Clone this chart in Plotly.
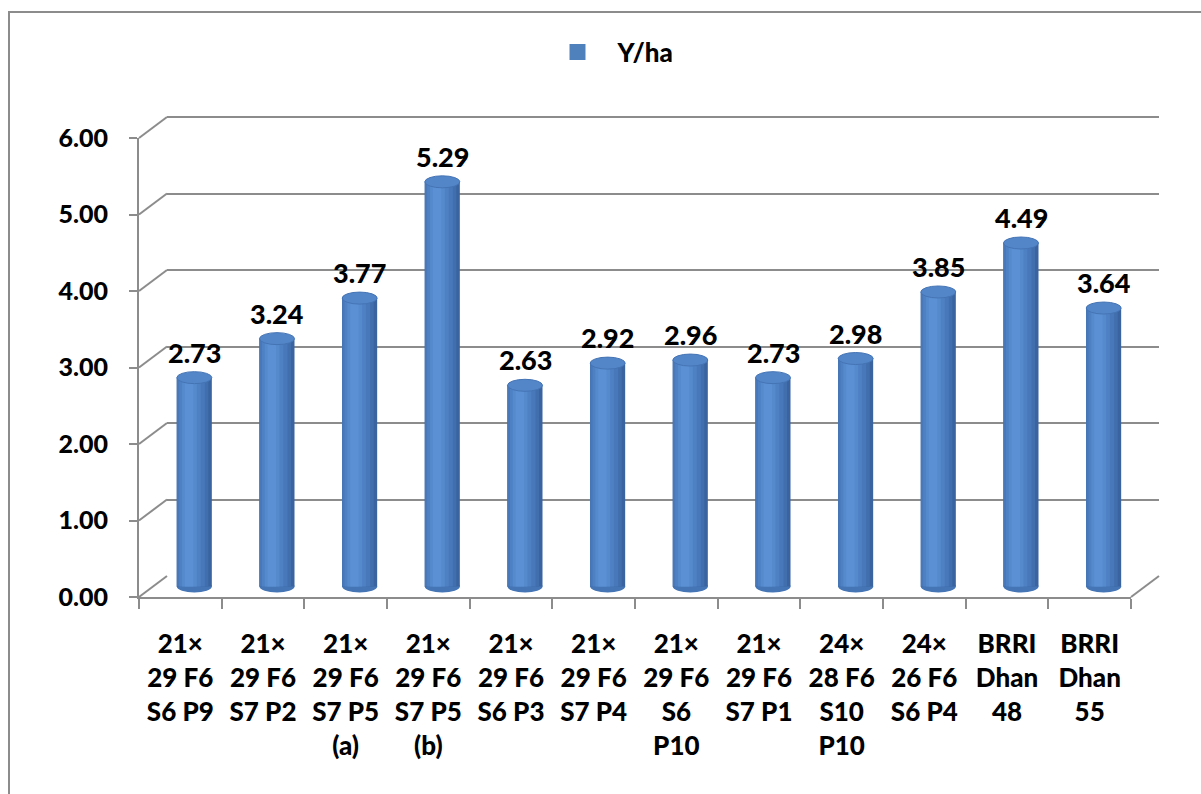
import plotly.graph_objects as go

# ---- data -------------------------------------------------------------
categories = [
    "21×<br>29 F6<br>S6 P9",
    "21×<br>29 F6<br>S7 P2",
    "21×<br>29 F6<br>S7 P5<br>(a)",
    "21×<br>29 F6<br>S7 P5<br>(b)",
    "21×<br>29 F6<br>S6 P3",
    "21×<br>29 F6<br>S7 P4",
    "21×<br>29 F6<br>S6<br>P10",
    "21×<br>29 F6<br>S7 P1",
    "24×<br>28 F6<br>S10<br>P10",
    "24×<br>26 F6<br>S6 P4",
    "BRRI<br>Dhan<br>48",
    "BRRI<br>Dhan<br>55",
]
yield_per_ha = [2.73, 3.24, 3.77, 5.29, 2.63, 2.92, 2.96, 2.73, 2.98, 3.85, 4.49, 3.64]
y_tick_values = [0, 1, 2, 3, 4, 5, 6]
series_name = "Y/ha"

# ---- geometry of the pseudo-3D frame (pixels) -------------------------
FIG_W, FIG_H = 1201, 794
LEFT, BOTTOM = 139, 197
FRONT_W, FRONT_H = 992, 459          # front plane of the plot box
DEPTH_X, DEPTH_Y = 28, 21            # perspective offset of the back wall
HEAD = 4                             # headroom so the top gridline is drawn
AREA_W = FRONT_W + DEPTH_X
AREA_H = FRONT_H + DEPTH_Y + HEAD
TOP = FIG_H - BOTTOM - AREA_H
RIGHT = FIG_W - LEFT - AREA_W

Y_MAX = y_tick_values[-1]
n = len(categories)
cat_px = FRONT_W / n
unit_px = FRONT_H / Y_MAX
bar_w = 35 / cat_px                   # cylinder width in category units
cap_h = 6 / unit_px                   # half height of the elliptical caps
floor_pad = (DEPTH_Y / 2) / unit_px   # room below zero for the bottom caps


def px(x):
    return x / AREA_W


def py(y):
    return y / AREA_H


GRID = "#8c8c8c"
FONT = "Lato"
WEIGHT = 900
BASE = "#4f81bd"

fig = go.Figure()

# back wall: carries the horizontal gridlines
fig.add_trace(go.Scatter(x=[0], y=[0], xaxis="x", yaxis="y", mode="markers",
                         marker=dict(opacity=0), hoverinfo="skip", showlegend=False))

# cylinders: overlaid bars of narrowing width give the rounded shading
shades = [
    (0.00, 1.00, "#3a64a0"),
    (0.00, 0.90, "#416fae"),
    (0.00, 0.80, "#4878b9"),
    (0.07, 0.68, "#4e81c4"),
    (0.15, 0.57, "#558acd"),
    (0.23, 0.47, "#5b91d4"),
]
for a, b, color in shades:
    fig.add_trace(go.Bar(
        x=categories, y=yield_per_ha, xaxis="x2", yaxis="y2",
        width=(b - a) * bar_w, offset=-bar_w / 2 + a * bar_w,
        marker=dict(color=color, line=dict(width=0)),
        hoverinfo="skip", showlegend=False,
    ))

# legend entry
fig.add_trace(go.Scatter(
    x=[None], y=[None], xaxis="x2", yaxis="y2", mode="markers", name=series_name,
    marker=dict(symbol="square", size=17, color=BASE), showlegend=True,
))

# front plane: axis ticks and labels
fig.add_trace(go.Scatter(x=categories, y=yield_per_ha, xaxis="x3", yaxis="y3",
                         mode="markers", marker=dict(opacity=0),
                         hoverinfo="skip", showlegend=False))

shapes = []
# elliptical caps of the cylinders
for i, v in enumerate(yield_per_ha):
    shapes.append(dict(type="circle", xref="x2", yref="y2", layer="below",
                       x0=i - bar_w / 2, x1=i + bar_w / 2, y0=-cap_h, y1=cap_h,
                       fillcolor="#4575b5", line=dict(width=0)))
    shapes.append(dict(type="circle", xref="x2", yref="y2", layer="above",
                       x0=i - bar_w / 2, x1=i + bar_w / 2, y0=v - cap_h, y1=v + cap_h,
                       fillcolor="#5386c9", line=dict(color="#4574b4", width=1)))

# side-wall diagonals at each y tick
for v in y_tick_values:
    yf = v * unit_px
    shapes.append(dict(type="line", xref="paper", yref="paper",
                       x0=0, y0=py(yf), x1=px(DEPTH_X), y1=py(yf + DEPTH_Y),
                       line=dict(color=GRID, width=2)))
# floor diagonal at the right end
shapes.append(dict(type="line", xref="paper", yref="paper",
                   x0=px(FRONT_W), y0=0, x1=1, y1=py(DEPTH_Y),
                   line=dict(color=GRID, width=2)))
# chart frame
shapes.append(dict(type="rect", xref="paper", yref="paper",
                   x0=px(9 - LEFT), x1=px(FIG_W + 60 - LEFT),
                   y0=py(-BOTTOM - 20), y1=py(FIG_H - BOTTOM - 12),
                   line=dict(color=GRID, width=2), fillcolor="rgba(0,0,0,0)"))

# value labels above each cylinder
annotations = [
    dict(x=i, y=v, xref="x2", yref="y2", text=f"{v:.2f}", showarrow=False,
         yanchor="bottom", yshift=7,
         font=dict(family=FONT, size=27, color="black", weight=WEIGHT))
    for i, v in enumerate(yield_per_ha)
]

fig.update_layout(
    width=FIG_W, height=FIG_H,
    margin=dict(l=LEFT, r=RIGHT, t=TOP, b=BOTTOM, autoexpand=False),
    paper_bgcolor="white", plot_bgcolor="rgba(0,0,0,0)",
    barmode="overlay",
    font=dict(family=FONT, size=24, color="black", weight=WEIGHT),
    showlegend=True,
    legend=dict(orientation="h", xref="container", yref="container",
                x=0.5 + 8 / FIG_W, xanchor="center", y=1 - 52 / FIG_H, yanchor="middle",
                itemwidth=70,
                font=dict(family=FONT, size=26, color="black", weight=WEIGHT),
                bgcolor="rgba(0,0,0,0)"),
    shapes=shapes,
    annotations=annotations,
    # back wall
    xaxis=dict(domain=[px(DEPTH_X), 1], range=[-0.5, n - 0.5], anchor="y",
               showgrid=False, zeroline=False, showticklabels=False, ticks="",
               fixedrange=True),
    yaxis=dict(domain=[py(DEPTH_Y), 1], range=[0, Y_MAX + HEAD / unit_px], anchor="x",
               tickvals=y_tick_values, showgrid=True, gridcolor=GRID, gridwidth=2,
               zeroline=False, showticklabels=False, ticks="", fixedrange=True),
    # mid depth: cylinders
    xaxis2=dict(domain=[px(DEPTH_X / 2), px(DEPTH_X / 2 + FRONT_W)], type="category",
                categoryorder="array", categoryarray=categories,
                range=[-0.5, n - 0.5], anchor="y2", visible=False, fixedrange=True),
    yaxis2=dict(domain=[0, py(DEPTH_Y / 2 + FRONT_H)], range=[-floor_pad, Y_MAX],
                anchor="x2", visible=False, fixedrange=True),
    # front plane: ticks and labels
    xaxis3=dict(domain=[0, px(FRONT_W)], type="category",
                categoryorder="array", categoryarray=categories,
                range=[-0.5, n - 0.5], anchor="y3", tickson="boundaries",
                ticks="outside", ticklen=10, tickwidth=2, tickcolor=GRID,
                showline=True, linecolor=GRID, linewidth=2, showgrid=False,
                zeroline=False, ticklabelstandoff=23, tickangle=0,
                tickfont=dict(family=FONT, size=26, color="black", weight=WEIGHT),
                fixedrange=True),
    yaxis3=dict(domain=[0, py(FRONT_H)], range=[0, Y_MAX], anchor="x3",
                tickvals=y_tick_values, tickformat=".2f",
                ticks="outside", ticklen=8, tickwidth=2, tickcolor=GRID,
                showline=True, linecolor=GRID, linewidth=2, showgrid=False,
                zeroline=False, ticklabelstandoff=16,
                tickfont=dict(family=FONT, size=25, color="black", weight=WEIGHT),
                fixedrange=True),
)

fig.write_html("out.html")
